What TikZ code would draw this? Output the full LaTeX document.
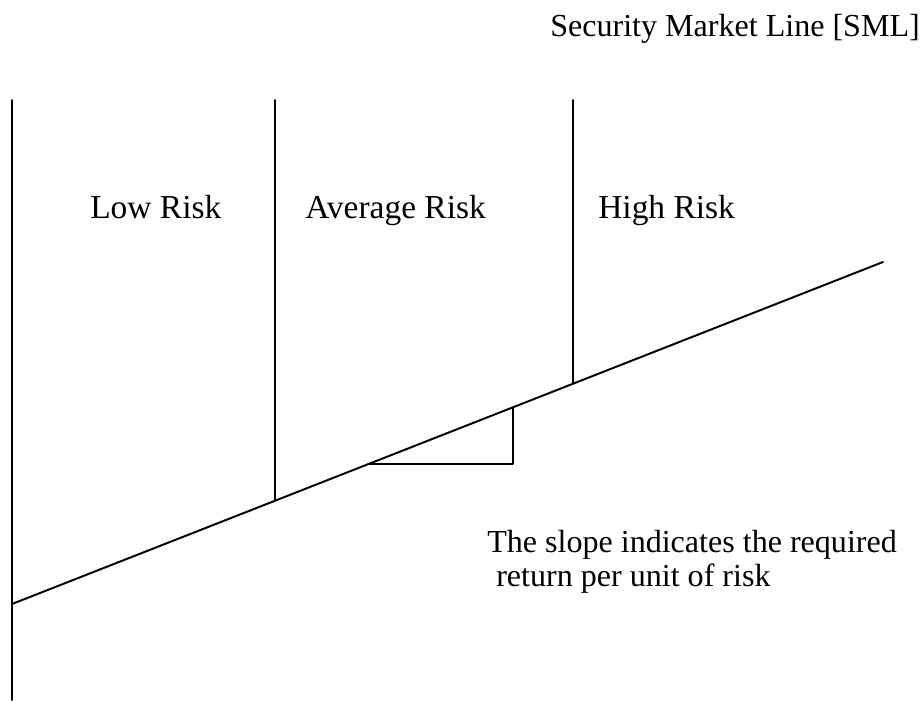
\documentclass[tikz,border=0pt]{standalone}
\usepackage{fontspec}
\setmainfont{Liberation Serif}
\usepackage{tikz}
\usetikzlibrary{arrows}

\tikzset{
  label text/.style={anchor=base west,inner sep=0pt,font=\fontsize{22.8pt}{24pt}\selectfont},
  zone text/.style={label text,font=\fontsize{23.8pt}{25pt}\selectfont},
  sml/.style={line width=1.4pt}
}

\begin{document}
\begin{tikzpicture}[line cap=round,line join=round,x=0.025cm,y=0.025cm]
\useasboundingbox (0,0) rectangle (920,700);
% axis and the market line
\coordinate (axtop) at (12,600);
\coordinate (axbot) at (12,0);
\coordinate (smlA) at (12,96);
\coordinate (smlB) at (883,438);
\draw [sml] (axtop) -- (axbot);
\draw [sml] (smlA) -- (smlB);
% risk zone dividers
\coordinate (divAtop) at (275,600);
\coordinate (divAbot) at (275,199.3);
\coordinate (divBtop) at (573,600);
\coordinate (divBbot) at (573,316.3);
\draw [sml] (divAtop) -- (divAbot);
\draw [sml] (divBtop) -- (divBbot);
% slope triangle
\coordinate (runL) at (368,235.8);
\coordinate (runR) at (513,235.8);
\coordinate (rise) at (513,292.7);
\draw [sml] (runL) -- (runR) -- (rise);
% labels
\node[label text] (title) at (550,663) {Security Market Line [SML]};
\node[zone text] (low) at (90,482) {Low Risk};
\node[zone text] (avg) at (305,482) {Average Risk};
\node[zone text] (high) at (598,482) {High Risk};
\node[label text] (slopeA) at (487,148) {The slope indicates the required};
\node[label text] (slopeB) at (496,114) {return per unit of risk};
\end{tikzpicture}
\end{document}
